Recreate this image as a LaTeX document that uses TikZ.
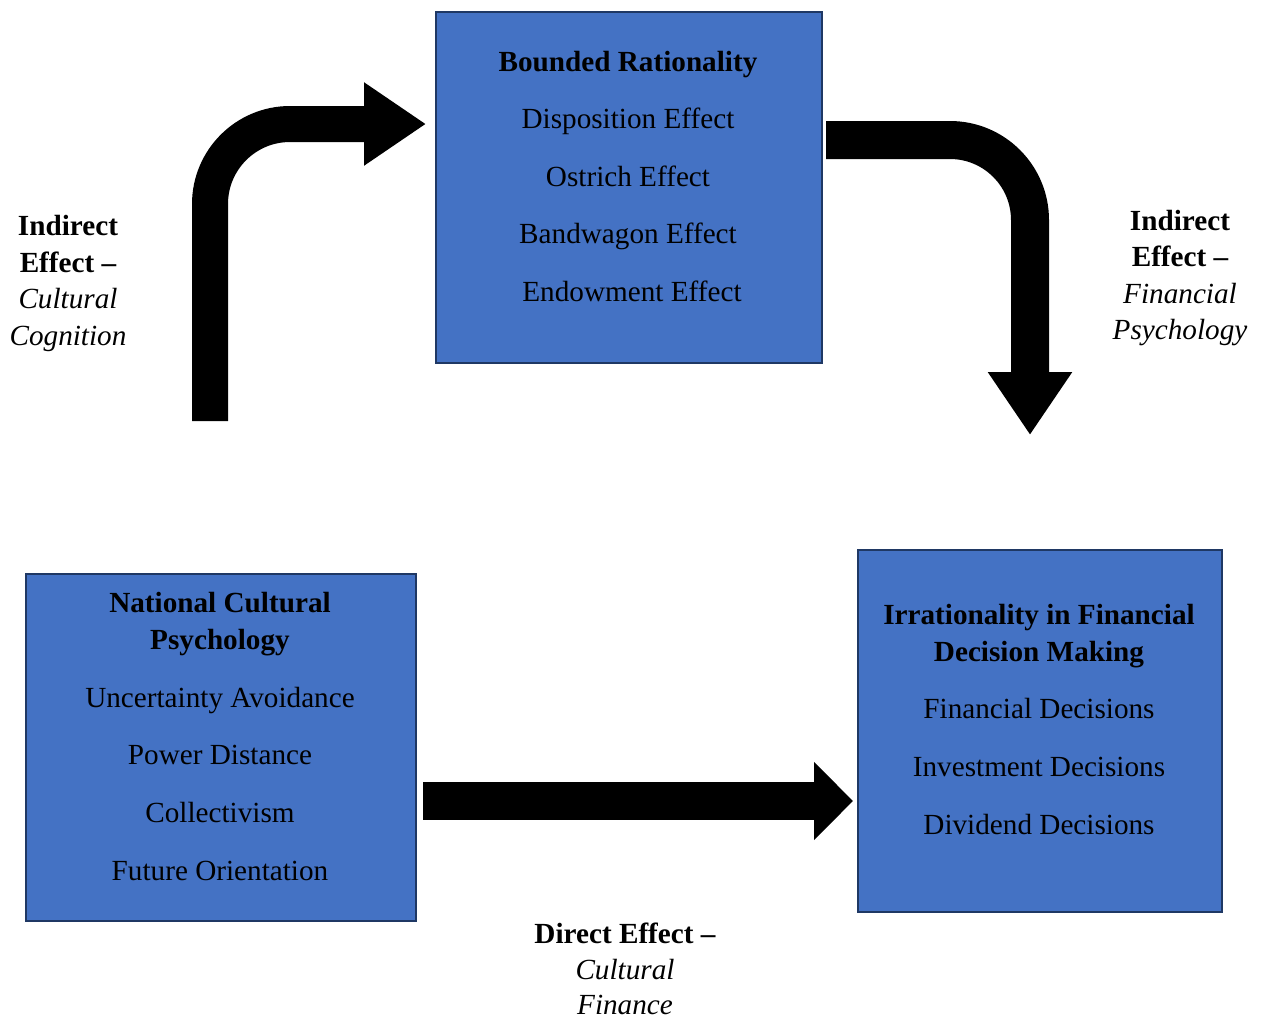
\documentclass[tikz,border=0pt]{standalone}
\usepackage{fontspec}
\setmainfont{Liberation Serif}
\usetikzlibrary{arrows.meta}
\definecolor{boxfill}{HTML}{4472C4}
\definecolor{boxline}{HTML}{1F3864}
\begin{document}
\begin{tikzpicture}[x=0.5pt,y=0.5pt,
  panel/.style={draw=boxline, line width=1pt, fill=boxfill, inner sep=0pt, anchor=north west},
  txt/.style={anchor=base, inner sep=0pt, font=\fontsize{14.6}{17}\selectfont},
  head/.style={anchor=base, inner sep=0pt, font=\fontsize{14.6}{17}\selectfont\bfseries},
  slant/.style={anchor=base, inner sep=0pt, font=\fontsize{14.6}{17}\selectfont\itshape},
  bigarrow/.style={black, line cap=butt},
]
\useasboundingbox (0,0) rectangle (1264,-1019);

% panels
\node[panel, minimum width=193pt, minimum height=175.5pt] (br) at (434.5,-11) {};
\node[panel, minimum width=195pt, minimum height=173.5pt] (ncp) at (24.5,-573) {};
\node[panel, minimum width=182pt, minimum height=181pt] (ifd) at (856.5,-549) {};

% Bounded Rationality
\node[head] (br0) at (628,-71) {Bounded Rationality};
\node[txt]  (br1) at (628,-128) {Disposition Effect};
\node[txt]  (br2) at (628,-186) {Ostrich Effect};
\node[txt]  (br3) at (628,-243) {Bandwagon Effect};
\node[txt]  (br4) at (632,-301) {Endowment Effect};

% National Cultural Psychology
\node[head] (ncp0) at (220,-612) {National Cultural};
\node[head] (ncp1) at (220,-649) {Psychology};
\node[txt]  (ncp2) at (220,-707) {Uncertainty Avoidance};
\node[txt]  (ncp3) at (220,-764) {Power Distance};
\node[txt]  (ncp4) at (220,-822) {Collectivism};
\node[txt]  (ncp5) at (220,-880) {Future Orientation};

% Irrationality in Financial Decision Making
\node[head] (ifd0) at (1039,-624) {Irrationality in Financial};
\node[head] (ifd1) at (1039,-661) {Decision Making};
\node[txt]  (ifd2) at (1039,-718) {Financial Decisions};
\node[txt]  (ifd3) at (1039,-776) {Investment Decisions};
\node[txt]  (ifd4) at (1039,-834) {Dividend Decisions};

% path labels
\node[head]  (la0) at (68,-235) {Indirect};
\node[head]  (la1) at (68,-272) {Effect –};
\node[slant] (la2) at (68,-308) {Cultural};
\node[slant] (la3) at (68,-345) {Cognition};

\node[head]  (ra0) at (1180,-230) {Indirect};
\node[head]  (ra1) at (1180,-266.5) {Effect –};
\node[slant] (ra2) at (1180,-303) {Financial};
\node[slant] (ra3) at (1180,-339.5) {Psychology};

\node[head]  (da0) at (625,-943) {Direct Effect –};
\node[slant] (da1) at (625,-979) {Cultural};
\node[slant] (da2) at (625,-1014) {Finance};

% block arrows
\coordinate (l0) at (210,-421);
\coordinate (l1) at (426,-124);
\draw[bigarrow, line width=18pt, rounded corners=40pt,
  -{Triangle[length=31pt,width=39.5pt]}] (l0) |- (l1);

\coordinate (r0) at (826,-140);
\coordinate (r1) at (1030,-435);
\draw[bigarrow, line width=19pt, rounded corners=40pt,
  -{Triangle[length=31.5pt,width=40pt]}] (r0) -| (r1);

\coordinate (d0) at (423,-801);
\coordinate (d1) at (853,-801);
\draw[bigarrow, line width=19pt,
  -{Triangle[length=19.5pt,width=38pt]}] (d0) -- (d1);
\end{tikzpicture}
\end{document}
